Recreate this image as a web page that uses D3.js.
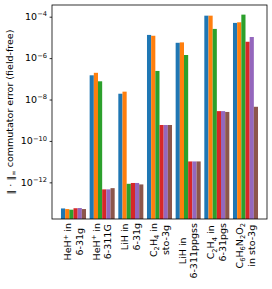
<!DOCTYPE html>
<html><head><meta charset="utf-8">
<script src="https://cdn.jsdelivr.net/npm/d3@7"></script>
<style>body{margin:0;background:#fff}svg{display:block}text{font-family:"DejaVu Sans",sans-serif}</style>
</head><body>
<svg id="c" width="272" height="289"></svg>
<script>
// categories: each label has two lines, parts [text, kind]
const categories = [
  [[["HeH",""],["+","sup"],[" in",""]],[["6-31g",""]]],
  [[["HeH",""],["+","sup"],[" in",""]],[["6-311G",""]]],
  [[["LiH in",""]],[["6-31g",""]]],
  [[["C",""],["2","sub"],["H",""],["4","sub"],[" in",""]],[["sto-3g",""]]],
  [[["LiH in",""]],[["6-311ppgss",""]]],
  [[["C",""],["2","sub"],["H",""],["4","sub"],[" in",""]],[["6-31pgs",""]]],
  [[["C",""],["6","sub"],["H",""],["6","sub"],["N",""],["2","sub"],["O",""],["2","sub"]],[["in sto-3g",""]]]
];
const seriesColors = ["#1f77b4","#ff7f0e","#2ca02c","#d62728","#9467bd","#8c564b"];
// log10 values, one array per series (per category)
const s1 = [-13.26, -6.83, -7.72, -4.88, -5.26, -3.95, -4.30];
const s2 = [-13.29, -6.71, -7.62, -4.92, -5.24, -3.95, -4.27];
const s3 = [-13.32, -7.12, -12.07, -6.62, -5.85, -4.59, -3.90];
const s4 = [-13.25, -12.34, -12.03, -9.23, -10.99, -8.56, -5.21];
const s5 = [-13.24, -12.34, -12.03, -9.23, -10.99, -8.56, -4.98];
const s6 = [-13.29, -12.28, -12.10, -9.23, -10.99, -8.60, -8.35];
const series = [s1,s2,s3,s4,s5,s6];
const yTicks = [-12,-10,-8,-6,-4];

const L=52, R=267, T=5, B=219;
const svg = d3.select("#c");
const x = d3.scaleLinear().domain([-0.75, 6.75]).range([L, R]);
const y = d3.scaleLog().domain([Math.pow(10,-13.77), Math.pow(10,-3.435)]).range([B, T]);
const bw = 0.1455;

const g = svg.append("g");
series.forEach((s, j) => {
  g.selectAll(null).data(s).enter().append("rect")
    .attr("x", (d,i) => x(i + (j-2.5)*bw - bw/2))
    .attr("width", x(bw) - x(0))
    .attr("y", d => y(Math.pow(10,d)))
    .attr("height", d => B - y(Math.pow(10,d)))
    .attr("fill", seriesColors[j]);
});

// y axis
const ya = svg.append("g").attr("transform",`translate(${L},0)`)
  .call(d3.axisLeft(y).tickValues(yTicks.map(t=>Math.pow(10,t))).tickSize(2.4).tickPadding(2.5).tickFormat(""));
ya.select(".domain").remove();
ya.selectAll("line").attr("stroke","#000").attr("stroke-width",0.8);
yTicks.forEach(t => {
  const tx = svg.append("text").attr("x", L-5).attr("y", y(Math.pow(10,t))).attr("dy","0.35em")
    .attr("text-anchor","end").attr("font-size",9.5).attr("fill","#000");
  tx.append("tspan").text("10");
  tx.append("tspan").attr("font-size",6.7).attr("dy","-0.55em").text("\u2212"+Math.abs(t));
});

// frame
svg.append("rect").attr("x",L).attr("y",T).attr("width",R-L).attr("height",B-T)
  .attr("fill","none").attr("stroke","#000").attr("stroke-width",0.8);

// y label
const yl = svg.append("text").attr("transform",`translate(14,${(T+B)/2}) rotate(-90)`)
  .attr("text-anchor","middle").attr("font-size",9.5).attr("fill","#000");
yl.append("tspan").text("\u2016 \u00b7 \u2016");
yl.append("tspan").attr("font-size",6.7).attr("dy","0.3em").text("\u221e");
yl.append("tspan").attr("dy","-0.3em").text(" commutator error (field-free)");

// x labels: block top-aligned under the axis, lines centred on each other
categories.forEach((lines, i) => {
  const cx = x(i);
  const gl = svg.append("g");
  const texts = [];
  lines.forEach((parts, k) => {
    const t = gl.append("text").attr("text-anchor","middle").attr("font-size",9.5).attr("fill","#000")
      .attr("y", (k - 0.5)*11.5 + 3.4);
    let shift = 0;
    parts.forEach(([txt, kind]) => {
      const ts = t.append("tspan").text(txt);
      let target = kind==="sup" ? -3.5 : kind==="sub" ? 2.2 : 0;
      if (kind) ts.attr("font-size",6.7);
      ts.attr("dy", target - shift);
      shift = target;
    });
    texts.push(t);
  });
  const maxLen = d3.max(texts, t => t.node().getComputedTextLength());
  texts.forEach(t => t.attr("x", -maxLen/2));
  gl.attr("transform",`translate(${cx},223) rotate(-90)`);
});
</script>
</body></html>
